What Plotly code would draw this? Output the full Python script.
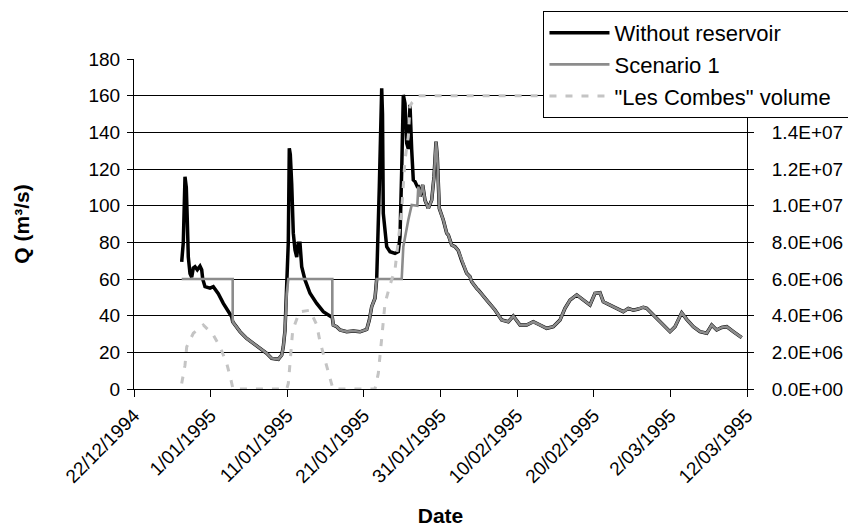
import plotly.graph_objects as go
import pandas as pd

START = pd.Timestamp("1994-12-22")
END = pd.Timestamp("1995-03-12")

# ---- data (time in days since 22/12/1994, discharge in m3/s, volume in m3) ----
# "Without reservoir" only part, before each flood is routed
without_a_t = [6.225, 6.434, 6.656, 6.826, 6.956, 7.087, 7.308, 7.530, 7.739, 7.961,
               8.261, 8.613, 8.835, 8.966, 9.266, 9.918, 10.349, 11.002, 11.654,
               12.307, 12.751, 12.881]
without_a_q = [69.4, 80, 115.8, 110, 92, 72, 63, 61, 66, 66.7,
               65, 67, 65, 60, 55.8, 55, 55.8, 52, 46.7,
               42, 39.4, 36.7]
scen_a_t = [6.225, 12.881, 12.881]
scen_a_q = [60, 60, 36.7]

# common recession 1
common_a_t = [13.834, 14.708, 15.569, 16.444, 17.318, 17.971, 18.832, 19.276,
              19.485, 19.706, 19.928]
common_a_q = [31.3, 27.6, 24.9, 22.2, 19.5, 16.7, 16.2, 18.5, 23, 32, 52]

without_b_t = [20.137, 20.268, 20.398, 20.581, 20.790, 21.012, 21.234, 21.443,
               21.664, 21.886, 22.317, 22.969, 23.844, 24.705, 25.579, 25.880]
without_b_q = [80, 131.3, 128, 112, 85, 75.8, 72, 79.5,
               79.5, 66.7, 59.5, 52.2, 46.7, 42.2, 39.4, 39]
scen_b_t = [20.137, 25.880, 25.880]
scen_b_q = [60, 60, 39.4]

# common recession 2
common_b_t = [26.010, 26.454, 26.884, 27.759, 28.620, 29.494, 30.369, 30.708,
              31.021, 31.452, 31.674]
common_b_q = [34.9, 34, 32.2, 31.3, 31.6, 31.2, 32.5, 37.6, 44.9, 49.5, 60]

without_c_t = [31.805, 32.013, 32.326, 32.431, 32.535, 32.979, 33.410, 34.062,
               34.493, 34.715, 34.937, 35.146, 35.367, 35.589, 35.798, 36.020,
               36.241, 36.450, 36.672, 36.972, 37.103]
without_c_q = [75, 110, 164, 150, 95.8, 77.6, 74.9, 74,
               74.9, 83, 119.5, 160.4, 155.8, 134, 131, 155,
               130.4, 114, 113.2, 110.4, 110.4]
scen_c_t = [34.937, 35.146, 35.798, 36.241, 36.972, 37.103]
scen_c_q = [60, 77.6, 92.2, 100.4, 100, 110.4]

# common tail once the reservoir is full
common_c_t = [37.325, 37.677, 37.977, 38.408, 38.852, 39.152, 39.413, 39.582,
              39.843, 40.365, 40.809, 41.018, 41.461, 41.892, 42.323, 42.766,
              43.419, 43.850, 44.071, 44.724, 44.933, 46.029, 47.113, 47.987,
              48.848, 49.500, 50.375, 51.249, 52.110, 52.985, 53.859, 54.720,
              55.595, 56.247, 56.900, 57.774, 58.635, 59.510, 60.162, 60.815,
              61.246, 62.120, 62.994, 63.856, 64.508, 65.161, 65.813, 66.466,
              66.910, 67.562, 68.423, 69.298, 69.950, 70.603, 71.477, 72.130,
              72.991, 73.866, 74.740, 75.392, 76.045, 76.698, 77.350, 78.212,
              79.308]
common_c_q = [104.9, 111.3, 103, 98.5, 103, 115.8, 134.9, 126.7,
              98.5, 92.2, 85, 84, 78.5, 77.6, 75.5, 70,
              63.1, 61.3, 58.5, 54.9, 54, 48.5, 43.1, 37.6,
              36.7, 39.8, 34.9, 34.9, 36.7, 34.9, 33.1, 34,
              37.6, 44, 48.5, 51.3, 48.5, 45.8, 52.2, 52.5,
              47.6, 45.8, 44, 42.2, 44, 43, 43.6, 44.6,
              44, 41.3, 37.6, 34, 31.3, 34, 41.6, 38,
              34, 31.3, 30.4, 34.9, 32.2, 33.6, 34, 31.3,
              28]

volume_t = [6.225, 6.656, 6.878, 7.739, 9.044, 10.349, 11.223, 12.098, 12.659,
            12.920, 19.928, 20.137, 20.359, 20.711, 21.573, 22.969, 23.844,
            24.274, 24.927, 25.579, 25.971, 31.452, 31.883, 32.326, 32.757,
            33.410, 34.062, 34.937, 35.367, 35.798, 36.020, 36.241, 37.103,
            79.308]
volume_m3 = [3.0e5, 1.3e6, 2.3e6, 3.04e6, 3.49e6, 2.95e6, 2.3e6, 1.4e6, 4.9e5,
             0, 0, 3.0e5, 1.4e6, 3.2e6, 4.2e6, 4.3e6, 3.5e6,
             2.58e6, 1.58e6, 5.8e5, 0, 0, 8.5e5, 2.76e6, 4.67e6,
             5.67e6, 6.5e6, 9.76e6, 1.25e7, 1.376e7, 1.54e7, 1.56e7, 1.6e7,
             1.6e7]

series_names = ["Without reservoir", "Scenario 1", '"Les Combes" volume']
x_tick_labels = ["22/12/1994", "1/01/1995", "11/01/1995", "21/01/1995",
                 "31/01/1995", "10/02/1995", "20/02/1995", "2/03/1995",
                 "12/03/1995"]
# the 1.6E+07 and 1.8E+07 labels lie under the legend in the original
y2_tick_values = [0, 2e6, 4e6, 6e6, 8e6, 1e7, 1.2e7, 1.4e7]
y2_tick_labels = ["0.0E+00", "2.0E+06", "4.0E+06", "6.0E+06", "8.0E+06",
                  "1.0E+07", "1.2E+07", "1.4E+07"]

# ---- assemble series ----
def to_dates(days):
    return [START + pd.Timedelta(days=d) for d in days]

without_t = without_a_t + common_a_t + without_b_t + common_b_t + without_c_t + common_c_t
without_q = without_a_q + common_a_q + without_b_q + common_b_q + without_c_q + common_c_q
scen_t = scen_a_t + common_a_t + scen_b_t + common_b_t + scen_c_t + common_c_t
scen_q = scen_a_q + common_a_q + scen_b_q + common_b_q + scen_c_q + common_c_q

x_tick_vals = list(pd.to_datetime(x_tick_labels, format="%d/%m/%Y"))

FONT = "Liberation Sans, Arial, sans-serif"
PAD = "\u00a0\u00a0"  # the legend box runs to the page edge, as in the original

fig = go.Figure()
fig.add_trace(go.Scatter(x=to_dates(without_t), y=without_q, mode="lines",
                         name=series_names[0], legendgroup="a",
                         line=dict(color="black", width=3.5)))
fig.add_trace(go.Scatter(x=to_dates(scen_t), y=scen_q, mode="lines",
                         name=series_names[1], legendgroup="b",
                         line=dict(color="#8c8c8c", width=2.6)))
fig.add_trace(go.Scatter(x=to_dates(volume_t), y=volume_m3, mode="lines",
                         name=series_names[2] + PAD, legendgroup="c", yaxis="y2",
                         line=dict(color="#c4c4c4", width=3, dash="7px,9px")))

fig.update_layout(
    width=848, height=527,
    margin=dict(l=134, r=101, t=59, b=138, autoexpand=False),
    paper_bgcolor="white", plot_bgcolor="white",
    font=dict(family=FONT, size=19, color="black"),
    xaxis=dict(type="date", range=[START, END], tickmode="array",
               tickvals=x_tick_vals, ticktext=x_tick_labels, tickangle=-45,
               showgrid=False, zeroline=False, showline=True, linecolor="black",
               linewidth=1, ticks="outside", ticklen=7, tickcolor="black",
               title=dict(text="<b>Date</b>", font=dict(size=21), standoff=26)),
    yaxis=dict(range=[0, 180], tick0=0, dtick=20, showgrid=True,
               gridcolor="black", gridwidth=1, zeroline=False, showline=True,
               linecolor="black", linewidth=1, ticks="outside", ticklen=6,
               tickcolor="black", ticklabelstandoff=3,
               title=dict(text="<b>Q (m³/s)</b>", font=dict(size=21), standoff=53)),
    yaxis2=dict(overlaying="y", side="right", range=[0, 1.8e7], tickmode="array",
                tickvals=y2_tick_values, ticktext=y2_tick_labels, showgrid=False,
                zeroline=False, showline=True, linecolor="black", linewidth=1,
                ticks="outside", ticklen=6, tickcolor="black", ticklabelstandoff=14),
    legend=dict(x=0.668, y=1.1455, xanchor="left", yanchor="top",
                bgcolor="white", bordercolor="black", borderwidth=1,
                font=dict(size=22), itemwidth=60, tracegroupgap=8,
                traceorder="normal"),
    showlegend=True,
)

fig.write_html("out.html", config={"displayModeBar": False},
               post_script="document.body.style.margin='0px';")
